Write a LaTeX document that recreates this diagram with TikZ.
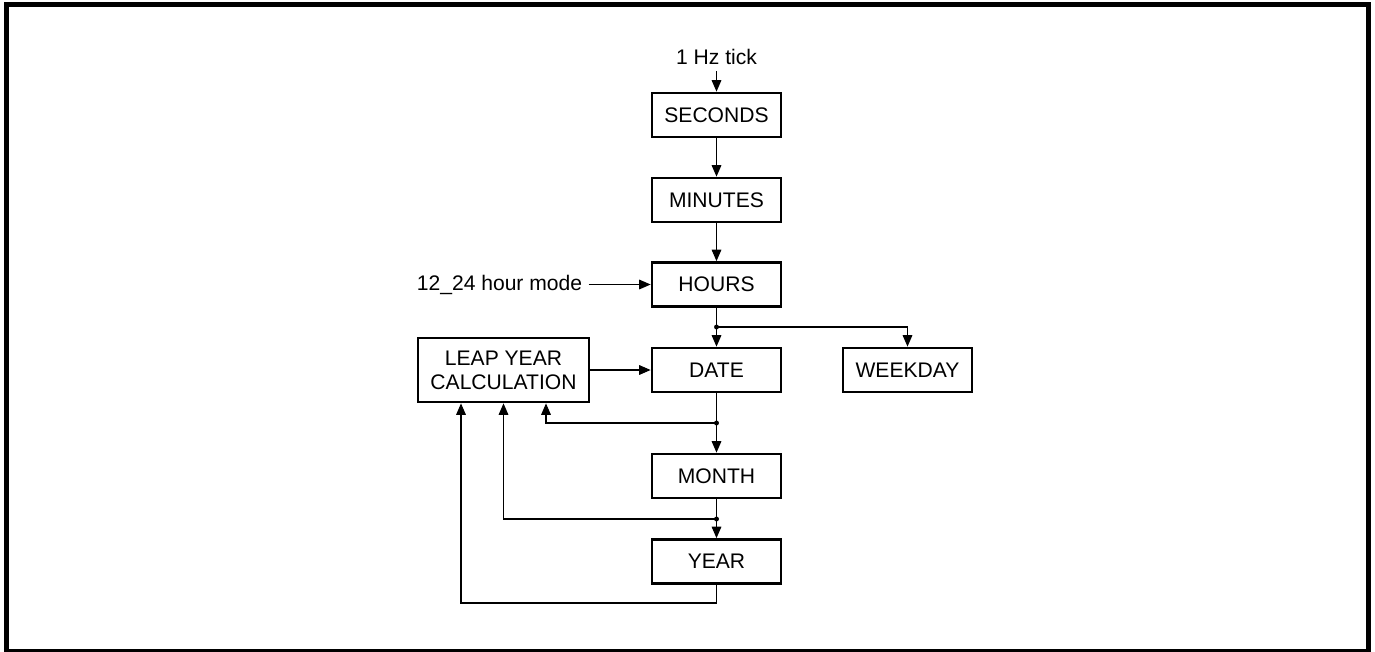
\documentclass[tikz,border=0pt]{standalone}
\usepackage{fontspec}
\setmainfont{Liberation Sans}
\usetikzlibrary{arrows.meta, positioning, calc}

\tikzset{
  blk/.style={draw, line width=1.6pt, minimum width=2.58cm, minimum height=0.88cm,
    inner sep=0pt, font=\fontsize{12}{13.5}\selectfont},
  lbl/.style={inner sep=3.5pt, font=\fontsize{12}{13.5}\selectfont},
  wire/.style={line width=0.6pt},
  arr/.style={wire, -{Triangle[length=6.5pt,width=5.5pt]}},
  jdot/.style={circle, fill, inner sep=0pt, minimum size=2.8pt}
}

\begin{document}
\begin{tikzpicture}[x=0.02cm,y=-0.02cm]

\useasboundingbox (0,0) rectangle (1375,652);
\draw[line width=2.4pt] (6.5,4.5) rectangle (1368.5,651);

% ------------------------
% Counter chain
% ------------------------
\node[blk] (sec)   at (716.5,115)   {SECONDS};
\node[blk] (min)   at (716.5,200)   {MINUTES};
\node[blk] (hrs)   at (716.5,284.5) {HOURS};
\node[blk] (date)  at (716.5,370)   {DATE};
\node[blk] (wday)  at (907.5,370)   {WEEKDAY};
\node[blk] (month) at (716.5,476)   {MONTH};
\node[blk] (year)  at (716.5,561.5) {YEAR};

\node[blk, minimum width=3.42cm, minimum height=1.28cm, align=center]
  (leap) at (503.5,370) {LEAP YEAR\\CALCULATION};

% Inputs
\node[lbl] (tick) at (716.5,57)  {1 Hz tick};
\node[lbl] (mode) at (499.5,284.5) {12\_24 hour mode};

\draw[arr] (tick) -- (sec);
\draw[arr] (sec) -- (min);
\draw[arr] (min) -- (hrs);
\draw[arr] (mode) -- (hrs);
\draw[arr] (leap) -- (date);

% ------------------------
% Branch points
% ------------------------
\coordinate (j1) at (716.5,327);
\coordinate (j2) at (716.5,423);
\coordinate (j3) at (716.5,519);
\coordinate (yb) at (716.5,603);

\draw[wire] (hrs) -- (j1);
\draw[arr] (j1) -- (date);
\draw[arr] (j1) -| (wday);

\draw[wire] (date) -- (j2);
\draw[arr] (j2) -- (month);
\draw[arr] (j2) -| ($(leap.south)+(42.5,0)$);

\draw[wire] (month) -- (j3);
\draw[arr] (j3) -- (year);
\draw[arr] (j3) -| (leap.south);

% Year feedback to leap year
\draw[arr] (year) -- (yb) -| ($(leap.south)+(-42.5,0)$);

\foreach \j in {j1,j2,j3} {
  \node[jdot] (d\j) at (\j) {};
}

\end{tikzpicture}
\end{document}
